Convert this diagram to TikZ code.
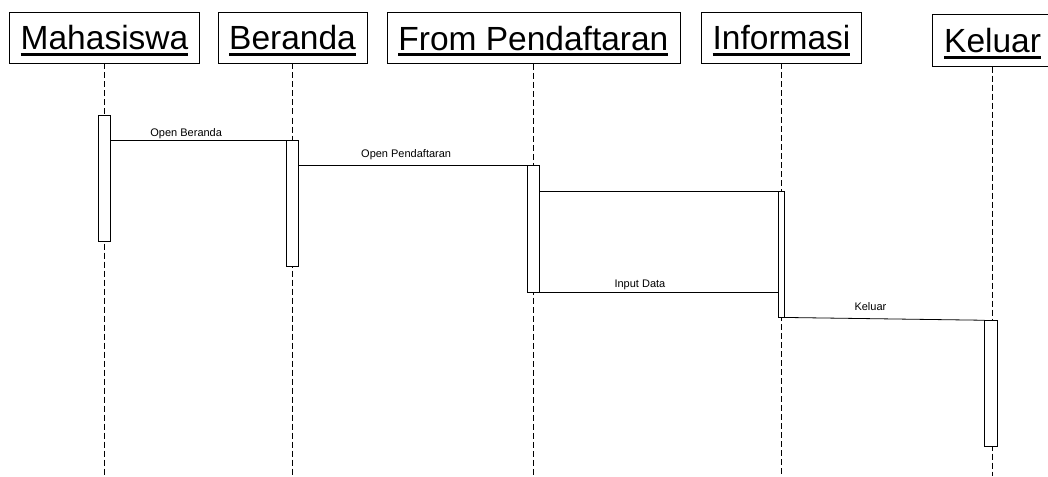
\documentclass[tikz,border=0pt]{standalone}
\usepackage{fontspec}
\setmainfont{Liberation Sans}
\usetikzlibrary{positioning}

\newcommand{\objname}[1]{\vtop{\hbox{\rule{0pt}{30pt}#1}\kern3pt\hrule height 3pt}}

\begin{document}
\begin{tikzpicture}[
    x=1pt,
    y=-1pt,
    obj/.style={draw, line width=0.8pt, inner sep=0pt, outer sep=0pt,
      minimum height=51pt, font=\fontsize{33.5}{40}\selectfont},
    life/.style={draw, dash pattern=on 6pt off 3pt, line width=0.8pt},
    bar/.style={draw, fill=white, line width=0.8pt, inner sep=0pt, outer sep=0pt,
      minimum width=12.5pt, minimum height=126.5pt},
    msg/.style={line width=0.8pt},
    lbl/.style={above, font=\fontsize{11}{13}\selectfont, inner sep=1.5pt}
  ]
  \clip (0,0) rectangle (1048,476);

  % objects
  \node[obj, minimum width=190pt] (mahasiswa) at (104.5,38) {\objname{Mahasiswa}};
  \node[obj, minimum width=149pt] (beranda) at (292.5,38) {\objname{Beranda}};
  \node[obj, minimum width=293pt] (pendaftaran) at (533.4,38.3) {\objname{From Pendaftaran}};
  \node[obj, minimum width=160pt] (informasi) at (781.5,37.8) {\objname{Informasi}};
  \node[obj, minimum width=120pt, minimum height=52.4pt] (keluar) at (992.6,40.5) {\objname{Keluar}};

  % lifelines
  \coordinate (bottom) at (0,476);
  \foreach \o in {mahasiswa,beranda,pendaftaran,informasi,keluar}
    \draw[life] (\o.south) -- (\o.south |- bottom);

  % activations
  \node[bar] (barMhs) at (104.5,178.3) {};
  \node[bar] (barBrd) at (292.5,203.3) {};
  \node[bar] (barDaftar) at (533.5,228.7) {};
  \node[bar, minimum width=6pt] (barInfo) at (781.3,254.2) {};
  \node[bar] (barKlr) at (990.8,383.5) {};

  % messages
  \draw[msg] (barMhs.east |- barBrd.north) -- node[lbl, pos=0.43, yshift=-1pt]{Open Beranda} (barBrd.north west);
  \draw[msg] (barBrd.east |- barDaftar.north) -- node[lbl, pos=0.47, yshift=4pt]{Open Pendaftaran} (barDaftar.north west);
  \draw[msg] (barDaftar.east |- barInfo.north) -- (barInfo.north west);
  \draw[msg] (barDaftar.south east) -- node[lbl, pos=0.42]{Input Data} (barInfo.west |- barDaftar.south);
  \draw[msg] (barInfo.south east) -- node[lbl, pos=0.43, yshift=6pt]{Keluar} (barKlr.north west);
\end{tikzpicture}
\end{document}
